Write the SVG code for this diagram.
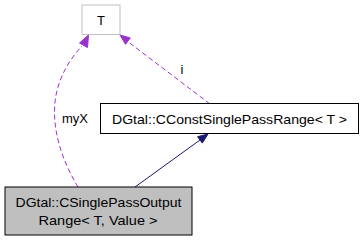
<svg xmlns="http://www.w3.org/2000/svg" width="363" height="243" viewBox="0 0 363 243">
  <style>
    text { font-family: "Liberation Sans", Arial, sans-serif; font-size: 13px; fill: #000; text-anchor: middle; }
    .box { fill: #fff; stroke: #000; stroke-width: 1; }
    .tbox { fill: #fff; stroke: #bfbfbf; stroke-width: 1; }
    .self { fill: #bfbfbf; stroke: #000; stroke-width: 1; }
    .use { fill: none; stroke: #9a32cd; stroke-width: 1; stroke-dasharray: 5,3; }
    .useHead { fill: #9a32cd; stroke: #9a32cd; stroke-width: 1; }
    .inh { fill: none; stroke: #191970; stroke-width: 1; }
    .inhHead { fill: #191970; stroke: #191970; stroke-width: 1; }
  </style>
  <rect width="363" height="243" fill="#fff"/>

  <g id="edges">
    <!-- myX: usage relation to template parameter T -->
    <path class="use" d="M78,187 C63,162 52,132 55,102 C57,82 67,62 82,46"/>
    <polygon class="useHead" points="88.5,35 79.5,43 87.5,47.5"/>
    <text x="75" y="123">myX</text>
    <!-- i: usage relation to template parameter T -->
    <path class="use" d="M210,104 L127,41"/>
    <polygon class="useHead" points="120,35 130.3,37.9 125.5,44.3"/>
    <text x="182" y="74">i</text>
    <!-- inheritance from the concept -->
    <path class="inh" d="M135,187 L200,140"/>
    <polygon class="inhHead" points="208,134 202.3,143.1 197.6,136.7"/>
  </g>

  <g id="node-T">
    <rect class="tbox" x="82" y="5" width="38" height="29.5"/>
    <text x="101" y="24.5">T</text>
  </g>

  <g id="node-CConstSinglePassRange">
    <rect class="box" x="100.5" y="103.5" width="258" height="30"/>
    <text x="229.5" y="123.5" textLength="235" lengthAdjust="spacingAndGlyphs">DGtal::CConstSinglePassRange&lt; T &gt;</text>
  </g>

  <g id="node-CSinglePassOutputRange">
    <rect class="self" x="5" y="187" width="187" height="48"/>
    <text x="98.5" y="206.5" textLength="166" lengthAdjust="spacingAndGlyphs">DGtal::CSinglePassOutput</text>
    <text x="98" y="225" textLength="119" lengthAdjust="spacingAndGlyphs">Range&lt; T, Value &gt;</text>
  </g>
</svg>
